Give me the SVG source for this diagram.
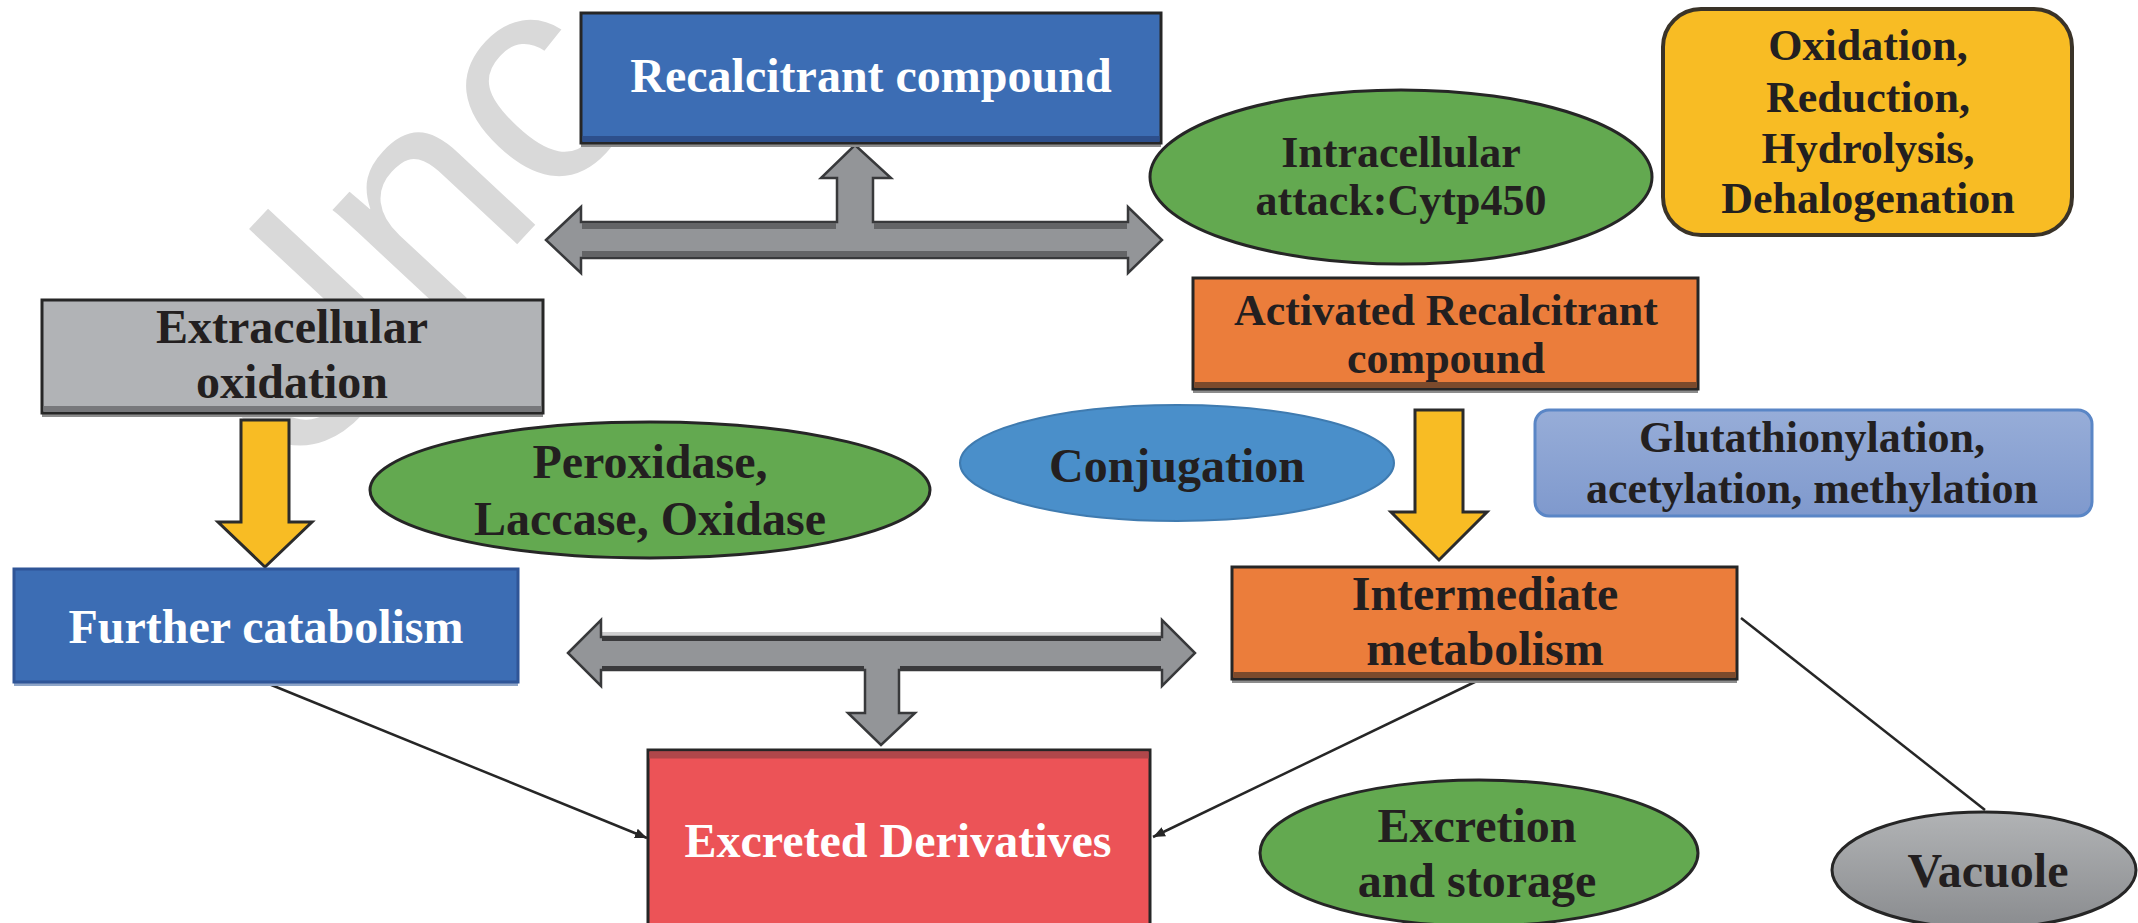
<svg xmlns="http://www.w3.org/2000/svg" width="2138" height="923" viewBox="0 0 2138 923">
<style>
.t{font-family:"Liberation Serif","Times New Roman",serif;font-weight:bold;text-anchor:middle;fill:#231f20}
.w{fill:#ffffff}
.f48{font-size:48px}
.f44{font-size:44px}
.box{stroke:#262626;stroke-width:3}
.ell{stroke:#262626;stroke-width:3}
.gray{fill:#939598;stroke:#38393b;stroke-width:2.5;stroke-linejoin:miter}
.yel{fill:#f8bc24;stroke:#2b2b2b;stroke-width:3}
.ln{stroke:#262626;stroke-width:2.5;fill:none}
.wm{font-family:"Liberation Sans",Arial,sans-serif;font-size:300px;fill:#d9d9d9}
</style>
<defs>
<marker id="ah" markerUnits="userSpaceOnUse" markerWidth="14" markerHeight="12" refX="12" refY="6" orient="auto">
<path d="M0,1 L12,6 L0,11 Z" fill="#262626"/>
</marker>
<linearGradient id="vac" x1="0" y1="0" x2="0" y2="1">
<stop offset="0" stop-color="#b1b3b5"/>
<stop offset="1" stop-color="#8a8c8f"/>
</linearGradient>
<linearGradient id="glu" x1="0" y1="0" x2="0" y2="1">
<stop offset="0" stop-color="#97add8"/>
<stop offset="1" stop-color="#7f99cd"/>
</linearGradient>
</defs>
<rect width="2138" height="923" fill="#ffffff"/>

<!-- watermark -->
<text class="wm" transform="translate(287,491) rotate(-47)">Unc</text>

<g id="connectors">
<!-- top double arrow with up stem -->
<polygon class="gray" points="546,240 581,207 581,222 837,222 837,178 821,178 855,145 891,178 873,178 873,222 1128,222 1128,207 1162,240 1128,273 1128,258 581,258 581,273"/>
<rect x="582" y="223" width="254" height="6" fill="#636466"/>
<rect x="874" y="223" width="253" height="6" fill="#636466"/>
<rect x="582" y="251" width="545" height="6" fill="#636466"/>
<!-- bottom double arrow with down stem -->
<rect x="601" y="632" width="561" height="5" fill="#cfcfd0"/>
<polygon class="gray" points="568,653 601,620 601,637 1162,637 1162,620 1195,653 1162,686 1162,670 899,670 899,713 915,713 881,745 848,713 865,713 865,670 601,670 601,686"/>
<rect x="602" y="637" width="559" height="4" fill="#3a3a3c"/>
<rect x="602" y="666" width="262" height="4" fill="#3a3a3c"/>
<rect x="900" y="666" width="261" height="4" fill="#3a3a3c"/>
<!-- yellow arrows -->
<polygon class="yel" points="241,420 289,420 289,522 312,522 265,567 218,522 241,522"/>
<polygon class="yel" points="1415,410 1463,410 1463,512 1487,512 1439,560 1391,512 1415,512"/>
<!-- thin lines -->
<line class="ln" x1="264" y1="682" x2="647" y2="838" marker-end="url(#ah)"/>
<line class="ln" x1="1481" y1="679" x2="1153" y2="837" marker-end="url(#ah)"/>
<line class="ln" x1="1741" y1="618" x2="1985" y2="810"/>
</g>

<g id="recalcitrant">
<rect x="581" y="143" width="580" height="4" fill="#8c8c8c"/>
<rect class="box" x="581" y="13" width="580" height="130" fill="#3c6db4"/>
<rect x="582.5" y="136" width="577" height="6" fill="#2d4f8c"/>
<text class="t w f48" x="871" y="92">Recalcitrant compound</text>
</g>

<g id="intracellular">
<ellipse class="ell" cx="1401" cy="177" rx="251" ry="87" fill="#63a950"/>
<text class="t f44" x="1401" y="167">Intracellular</text>
<text class="t f44" x="1401" y="215">attack:Cytp450</text>
</g>

<g id="reactions">
<rect x="1663" y="9" width="409" height="226" rx="38" fill="#f8bc24" stroke="#3a3328" stroke-width="4"/>
<text class="t f44" x="1868" y="60">Oxidation,</text>
<text class="t f44" x="1868" y="112">Reduction,</text>
<text class="t f44" x="1868" y="163">Hydrolysis,</text>
<text class="t f44" x="1868" y="213">Dehalogenation</text>
</g>

<g id="extracellular">
<rect x="42" y="413" width="501" height="4" fill="#8c8c8c"/>
<rect class="box" x="42" y="300" width="501" height="113" fill="#b1b3b6"/>
<rect x="43.5" y="406" width="498" height="6" fill="#77787b"/>
<text class="t f48" x="292" y="343">Extracellular</text>
<text class="t f48" x="292" y="398">oxidation</text>
</g>

<g id="activated">
<rect x="1193" y="389" width="505" height="4" fill="#8c8c8c"/>
<rect class="box" x="1193" y="278" width="505" height="111" fill="#eb7d3b"/>
<rect x="1194.5" y="382" width="502" height="6" fill="#7b4a2c"/>
<text class="t f44" x="1446" y="325">Activated Recalcitrant</text>
<text class="t f44" x="1446" y="373">compound</text>
</g>

<g id="peroxidase">
<ellipse class="ell" cx="650" cy="490" rx="280" ry="68" fill="#63a950"/>
<text class="t f48" x="650" y="478">Peroxidase,</text>
<text class="t f48" x="650" y="535">Laccase, Oxidase</text>
</g>

<g id="conjugation">
<ellipse cx="1177" cy="463" rx="217" ry="58" fill="#4a8fca" stroke="#3f7bb0" stroke-width="2"/>
<text class="t f48" x="1177" y="482">Conjugation</text>
</g>

<g id="glutathionylation">
<rect x="1535" y="410" width="557" height="106" rx="14" fill="url(#glu)" stroke="#5a86c6" stroke-width="3"/>
<text class="t f44" x="1812" y="452">Glutathionylation,</text>
<text class="t f44" x="1812" y="503">acetylation, methylation</text>
</g>

<g id="further">
<rect x="14" y="682" width="504" height="4" fill="#8ea5c8"/>
<rect x="14" y="569" width="504" height="113" fill="#3c6db4" stroke="#2f5597" stroke-width="3"/>
<text class="t w f48" x="266" y="643">Further catabolism</text>
</g>

<g id="intermediate">
<rect x="1232" y="679" width="505" height="4" fill="#8c8c8c"/>
<rect class="box" x="1232" y="567" width="505" height="112" fill="#eb7d3b"/>
<rect x="1233.5" y="672" width="502" height="6" fill="#7b4a2c"/>
<text class="t f48" x="1485" y="610">Intermediate</text>
<text class="t f48" x="1485" y="665">metabolism</text>
</g>

<g id="excreted">
<rect class="box" x="648" y="750" width="502" height="180" fill="#ec5357"/>
<rect x="649.5" y="751.5" width="499" height="7" fill="#b0474a"/>
<text class="t w f48" x="898" y="857">Excreted Derivatives</text>
</g>

<g id="excretion">
<ellipse class="ell" cx="1479" cy="853" rx="219" ry="73" fill="#63a950"/>
<text class="t f48" x="1477" y="842">Excretion</text>
<text class="t f48" x="1477" y="897">and storage</text>
</g>

<g id="vacuole">
<ellipse class="ell" cx="1984" cy="870" rx="152" ry="58" fill="url(#vac)"/>
<text class="t f48" x="1988" y="887">Vacuole</text>
</g>
</svg>
